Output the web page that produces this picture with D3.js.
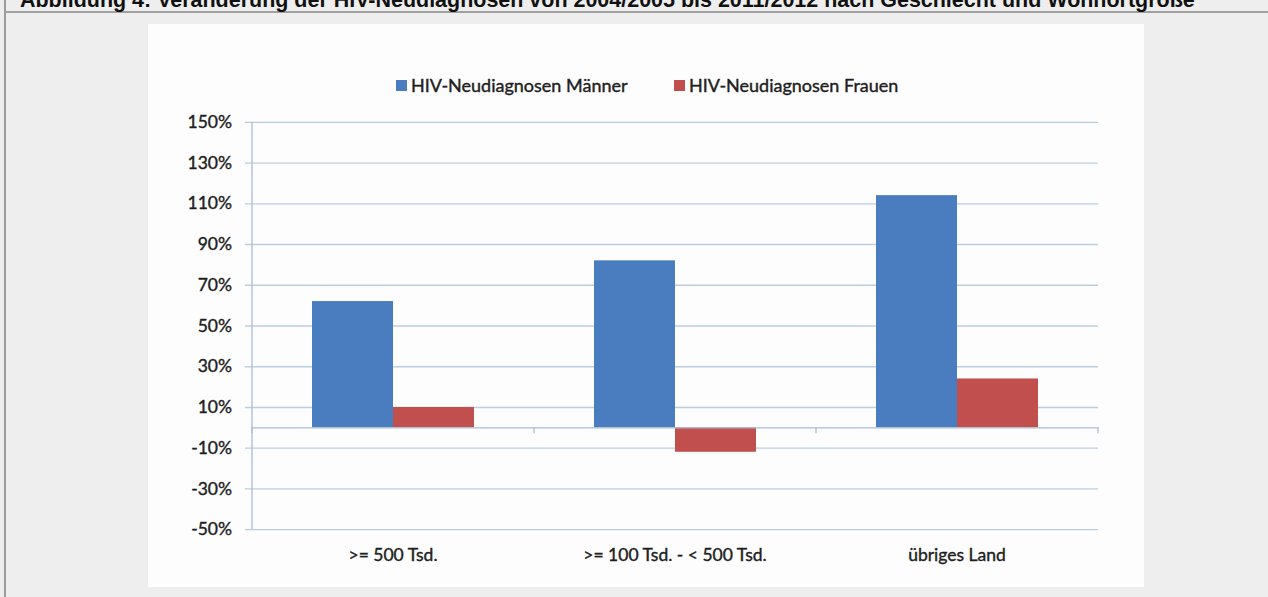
<!DOCTYPE html>
<html><head><meta charset="utf-8">
<script src="https://cdnjs.cloudflare.com/ajax/libs/d3/7.8.5/d3.min.js"></script>
<style>
html,body{margin:0;padding:0;background:#eeeeee;}
svg{display:block;}
</style></head>
<body>
<svg id="c" width="1268" height="597"></svg>
<script>
const title = "Abbildung 4: Veränderung der HIV-Neudiagnosen von 2004/2005 bis 2011/2012 nach Geschlecht und Wohnortgröße";
const categories = [">= 500 Tsd.", ">= 100 Tsd. - < 500 Tsd.", "übriges Land"];
const seriesNames = ["HIV-Neudiagnosen Männer", "HIV-Neudiagnosen Frauen"];
const maenner = [62, 82, 114];
const frauen = [10, -12, 24];
const yTicks = [-50, -30, -10, 10, 30, 50, 70, 90, 110, 130, 150];
const colors = ["#4a7dbf", "#c04f4d"];

const svg = d3.select("#c");
const font = "Lato, 'Open Sans', sans-serif";
function styleText(sel, size){
  sel.attr("font-family",font).attr("font-size",size).attr("fill","#1e1e1e")
     .attr("font-weight","normal").attr("stroke","#1e1e1e").attr("stroke-width",0.4);
}

// frame
svg.append("rect").attr("x",0).attr("y",0).attr("width",1268).attr("height",597).attr("fill","#eeeeee");
svg.append("rect").attr("x",4).attr("y",0).attr("width",2).attr("height",597).attr("fill","#9c9c9c");
svg.append("rect").attr("x",4).attr("y",11).attr("width",1264).attr("height",2).attr("fill","#a0a0a0");
const tt = svg.append("text").attr("x",20).attr("y",7).attr("font-family","'Liberation Sans', Arial, sans-serif")
  .attr("font-weight","bold").attr("font-size",16).attr("fill","#111").text(title);
const tw = tt.node().getComputedTextLength();
tt.attr("font-size", 16*1175/tw);

// white panel
svg.append("rect").attr("x",148).attr("y",24).attr("width",996).attr("height",563).attr("fill","#fdfdfd");

const left = 252, right = 1098;
const y = d3.scaleLinear().domain([-50,150]).range([529.2,121.8]);
const x0 = d3.scaleBand().domain(categories).range([left,right]).paddingInner(0).paddingOuter(0);
const bw = x0.bandwidth();
const x1 = d3.scaleBand().domain(seriesNames).range([bw*0.2128, bw*(1-0.2128)]).padding(0);

// gridlines + y axis
const yAxis = d3.axisLeft(y).tickValues(yTicks).tickSize(-(right-left)).tickSizeOuter(0).tickFormat(d=>d+"%").tickPadding(20);
const gy = svg.append("g").attr("transform",`translate(${left},0)`).call(yAxis);
gy.select(".domain").remove();
gy.selectAll(".tick line").attr("stroke","#bccde0").attr("stroke-width",1.3).attr("x1",-7);
styleText(gy.selectAll(".tick text"), 17.5);
svg.append("line").attr("x1",left).attr("x2",left).attr("y1",y(150)).attr("y2",y(-50)).attr("stroke","#a9bdd4").attr("stroke-width",1.3);

// bars
const data = categories.map((c,i)=>({cat:c, vals:[{s:seriesNames[0],v:maenner[i],k:0},{s:seriesNames[1],v:frauen[i],k:1}]}));
const g = svg.append("g");
g.selectAll("g.grp").data(data).join("g").attr("class","grp").attr("transform",d=>`translate(${x0(d.cat)},0)`)
 .selectAll("rect").data(d=>d.vals).join("rect")
 .attr("x",d=>x1(d.s)).attr("width",x1.bandwidth())
 .attr("y",d=>Math.min(y(d.v),y(0))).attr("height",d=>Math.abs(y(d.v)-y(0)))
 .attr("fill",d=>colors[d.k]);

// category axis at zero
const xAxis = d3.axisBottom(x0).tickSize(0).tickPadding(121);
const gx = svg.append("g").attr("transform",`translate(0,${y(0)})`).call(xAxis);
gx.select(".domain").attr("stroke","#a9bdd4").attr("stroke-width",1.3);
styleText(gx.selectAll(".tick text"), 17.5);
const bounds = categories.map(c=>x0(c)).concat([right]);
svg.append("g").selectAll("line").data(bounds).join("line")
 .attr("x1",d=>d).attr("x2",d=>d).attr("y1",y(0)).attr("y2",y(0)+6).attr("stroke","#a9bdd4").attr("stroke-width",1.3);

// legend
const leg = svg.append("g");
const legX = [396, 674];
seriesNames.forEach((s,i)=>{
  leg.append("rect").attr("x",legX[i]).attr("y",80).attr("width",11).attr("height",11).attr("fill",colors[i]);
  const t = leg.append("text").attr("x",legX[i]+15).attr("y",86).attr("dy","0.35em").text(s);
  styleText(t, 18);
});
</script>
</body></html>
